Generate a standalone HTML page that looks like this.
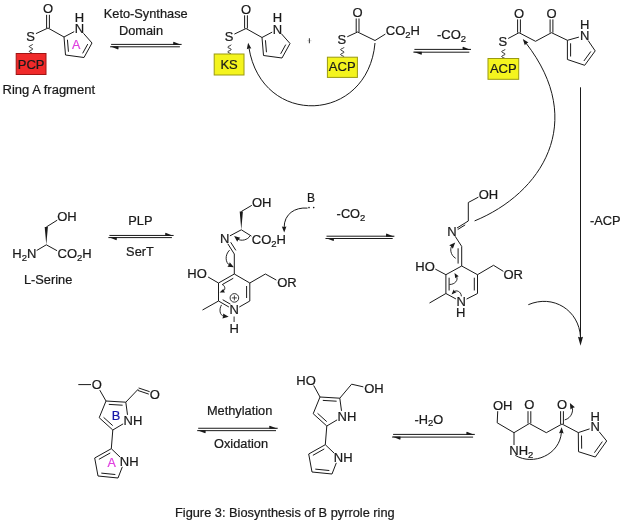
<!DOCTYPE html>
<html><head><meta charset="utf-8"><style>
html,body{margin:0;padding:0;background:#fff;}
svg{display:block;will-change:transform;}
text{font-family:"Liberation Sans",sans-serif;stroke-width:0.22px;}
</style></head><body>
<svg width="625" height="525" viewBox="0 0 625 525">
<rect width="625" height="525" fill="#fff"/>
<text x="42.94" y="13.3" font-size="13" text-anchor="start" fill="#1a1a1a" stroke="#1a1a1a" transform="matrix(1 0 0 1.04 0 -0.53)">O</text>
<text x="26.16" y="40.7" font-size="13" text-anchor="start" fill="#1a1a1a" stroke="#1a1a1a" transform="matrix(1 0 0 1.04 0 -1.63)">S</text>
<text x="74.81" y="33.3" font-size="13" text-anchor="start" fill="#1a1a1a" stroke="#1a1a1a" transform="matrix(1 0 0 1.04 0 -1.33)">N</text>
<text x="74.81" y="21.8" font-size="13" text-anchor="start" fill="#1a1a1a" stroke="#1a1a1a" transform="matrix(1 0 0 1.04 0 -0.87)">H</text>
<line x1="49.4" y1="28" x2="49.4" y2="14.8" stroke="#1a1a1a" stroke-width="1.0"/>
<line x1="46.6" y1="28" x2="46.6" y2="14.8" stroke="#1a1a1a" stroke-width="1.0"/>
<line x1="48" y1="28" x2="35.93" y2="33.65" stroke="#1a1a1a" stroke-width="1.0"/>
<line x1="48" y1="28" x2="64" y2="37" stroke="#1a1a1a" stroke-width="1.0"/>
<line x1="64" y1="37" x2="74.2" y2="31.61" stroke="#1a1a1a" stroke-width="1.0"/>
<line x1="83.46" y1="33.3" x2="92" y2="43" stroke="#1a1a1a" stroke-width="1.0"/>
<line x1="64" y1="37" x2="65.5" y2="55" stroke="#1a1a1a" stroke-width="1.0"/>
<line x1="67.44" y1="39.72" x2="68.44" y2="51.74" stroke="#1a1a1a" stroke-width="1.0"/>
<line x1="65.5" y1="55" x2="84" y2="57.5" stroke="#1a1a1a" stroke-width="1.0"/>
<line x1="84" y1="57.5" x2="92" y2="43" stroke="#1a1a1a" stroke-width="1.0"/>
<line x1="82.65" y1="53.33" x2="87.75" y2="44.08" stroke="#1a1a1a" stroke-width="1.0"/>
<path d="M32.7 44.2 L32.62 44.43 L32.39 44.67 L32.04 44.9 L31.59 45.13 L31.08 45.36 L30.57 45.59 L30.1 45.83 L29.71 46.06 L29.44 46.29 L29.31 46.53 L29.34 46.76 L29.52 46.99 L29.83 47.22 L30.26 47.45 L30.75 47.69 L31.27 47.92 L31.76 48.15 L32.18 48.39 L32.49 48.62 L32.67 48.85 L32.69 49.08 L32.56 49.31 L32.28 49.55 L31.89 49.78 L31.41 50.01 L30.9 50.25 L30.4 50.48 L29.95 50.71 L29.6 50.94 L29.37 51.17 L29.3 51.41 L29.38 51.64 L29.61 51.87 L29.97 52.11 L30.43 52.34 L30.93 52.57 L31.45 52.8 L31.92 53.03 L32.3 53.27 L32.57 53.5" stroke="#1a1a1a" stroke-width="1.0" fill="none"/>
<rect x="16.2" y="53.5" width="29.8" height="21" fill="#f02a2a" stroke="#a01414" stroke-width="1"/>
<text x="31.1" y="69.1" font-size="13" text-anchor="middle" fill="#1a1a1a" stroke="#1a1a1a" transform="matrix(1 0 0 1.04 0 -2.76)">PCP</text>
<text x="76.3" y="48.72" font-size="12.5" text-anchor="middle" fill="#e040e0" stroke="#e040e0" transform="matrix(1 0 0 1.04 0 -1.95)">A</text>
<text x="2.6" y="94" font-size="13" text-anchor="start" fill="#1a1a1a" stroke="#1a1a1a" transform="matrix(1 0 0 1.04 0 -3.76)">Ring A fragment</text>
<text x="145.7" y="17.7" font-size="12.8" text-anchor="middle" fill="#1a1a1a" stroke="#1a1a1a" transform="matrix(1 0 0 1.04 0 -0.71)">Keto-Synthase</text>
<text x="141" y="35" font-size="12.8" text-anchor="middle" fill="#1a1a1a" stroke="#1a1a1a" transform="matrix(1 0 0 1.04 0 -1.4)">Domain</text>
<line x1="111.1" y1="44.4" x2="181.6" y2="44.4" stroke="#1a1a1a" stroke-width="1.0"/>
<line x1="110.1" y1="46.8" x2="179.9" y2="46.8" stroke="#1a1a1a" stroke-width="1.0"/>
<polygon points="181.6,44.9 173.6,41.8 173.2,42.4 173.2,44.9" fill="#1a1a1a"/>
<polygon points="110.1,46.3 118.1,49.4 118.5,48.8 118.5,46.3" fill="#1a1a1a"/>
<text x="240.94" y="13.8" font-size="13" text-anchor="start" fill="#1a1a1a" stroke="#1a1a1a" transform="matrix(1 0 0 1.04 0 -0.55)">O</text>
<text x="224.66" y="41.2" font-size="13" text-anchor="start" fill="#1a1a1a" stroke="#1a1a1a" transform="matrix(1 0 0 1.04 0 -1.65)">S</text>
<text x="272.81" y="33.8" font-size="13" text-anchor="start" fill="#1a1a1a" stroke="#1a1a1a" transform="matrix(1 0 0 1.04 0 -1.35)">N</text>
<text x="272.81" y="22.3" font-size="13" text-anchor="start" fill="#1a1a1a" stroke="#1a1a1a" transform="matrix(1 0 0 1.04 0 -0.89)">H</text>
<line x1="247.4" y1="28.5" x2="247.4" y2="15.3" stroke="#1a1a1a" stroke-width="1.0"/>
<line x1="244.6" y1="28.5" x2="244.6" y2="15.3" stroke="#1a1a1a" stroke-width="1.0"/>
<line x1="246" y1="28.5" x2="234.4" y2="34.09" stroke="#1a1a1a" stroke-width="1.0"/>
<line x1="246" y1="28.5" x2="262" y2="37.5" stroke="#1a1a1a" stroke-width="1.0"/>
<line x1="262" y1="37.5" x2="272.2" y2="32.11" stroke="#1a1a1a" stroke-width="1.0"/>
<line x1="281.46" y1="33.8" x2="290" y2="43.5" stroke="#1a1a1a" stroke-width="1.0"/>
<line x1="262" y1="37.5" x2="263.5" y2="55.5" stroke="#1a1a1a" stroke-width="1.0"/>
<line x1="265.44" y1="40.22" x2="266.44" y2="52.24" stroke="#1a1a1a" stroke-width="1.0"/>
<line x1="263.5" y1="55.5" x2="282" y2="58" stroke="#1a1a1a" stroke-width="1.0"/>
<line x1="282" y1="58" x2="290" y2="43.5" stroke="#1a1a1a" stroke-width="1.0"/>
<line x1="280.65" y1="53.83" x2="285.75" y2="44.58" stroke="#1a1a1a" stroke-width="1.0"/>
<path d="M231.2 44.7 L231.12 44.93 L230.89 45.17 L230.54 45.4 L230.09 45.63 L229.58 45.86 L229.07 46.09 L228.6 46.33 L228.21 46.56 L227.94 46.79 L227.81 47.03 L227.84 47.26 L228.02 47.49 L228.33 47.72 L228.76 47.95 L229.25 48.19 L229.77 48.42 L230.26 48.65 L230.68 48.89 L230.99 49.12 L231.17 49.35 L231.19 49.58 L231.06 49.81 L230.78 50.05 L230.39 50.28 L229.91 50.51 L229.4 50.75 L228.9 50.98 L228.45 51.21 L228.1 51.44 L227.87 51.67 L227.8 51.91 L227.88 52.14 L228.11 52.37 L228.47 52.61 L228.93 52.84 L229.43 53.07 L229.95 53.3 L230.42 53.53 L230.8 53.77 L231.07 54" stroke="#1a1a1a" stroke-width="1.0" fill="none"/>
<rect x="214.2" y="54" width="29.8" height="21" fill="#f4f41e" stroke="#9a9a10" stroke-width="1"/>
<text x="229.1" y="68.7" font-size="13" text-anchor="middle" fill="#1a1a1a" stroke="#1a1a1a" transform="matrix(1 0 0 1.04 0 -2.75)">KS</text>
<line x1="307.3" y1="40.7" x2="311.5" y2="40.7" stroke="#c8c8c8" stroke-width="0.8"/>
<line x1="309.4" y1="38.2" x2="309.4" y2="43.3" stroke="#444" stroke-width="1.1"/>
<text x="352.54" y="17" font-size="13" text-anchor="start" fill="#1a1a1a" stroke="#1a1a1a" transform="matrix(1 0 0 1.04 0 -0.68)">O</text>
<text x="337.46" y="43.8" font-size="13" text-anchor="start" fill="#1a1a1a" stroke="#1a1a1a" transform="matrix(1 0 0 1.04 0 -1.75)">S</text>
<text x="385.81" y="35.4" font-size="13" text-anchor="start" fill="#1a1a1a" stroke="#1a1a1a" transform="matrix(1 0 0 1.04 0 -1.42)">CO<tspan font-size="9.5" dy="2.7">2</tspan><tspan dy="-2.7">H</tspan></text>
<line x1="359" y1="32" x2="359" y2="18.5" stroke="#1a1a1a" stroke-width="1.0"/>
<line x1="356.2" y1="32" x2="356.2" y2="18.5" stroke="#1a1a1a" stroke-width="1.0"/>
<line x1="357.6" y1="32" x2="347.25" y2="36.78" stroke="#1a1a1a" stroke-width="1.0"/>
<line x1="357.6" y1="32" x2="375" y2="40.5" stroke="#1a1a1a" stroke-width="1.0"/>
<line x1="375" y1="40.5" x2="385.4" y2="34.06" stroke="#1a1a1a" stroke-width="1.0"/>
<path d="M344 47.3 L343.92 47.54 L343.68 47.77 L343.31 48.01 L342.85 48.25 L342.33 48.49 L341.81 48.72 L341.33 48.96 L340.95 49.2 L340.7 49.44 L340.6 49.67 L340.67 49.91 L340.89 50.15 L341.24 50.39 L341.7 50.62 L342.22 50.86 L342.74 51.1 L343.22 51.34 L343.61 51.57 L343.88 51.81 L344 52.05 L343.95 52.29 L343.74 52.52 L343.4 52.76 L342.95 53 L342.44 53.24 L341.91 53.47 L341.43 53.71 L341.02 53.95 L340.74 54.19 L340.61 54.42 L340.64 54.66 L340.83 54.9 L341.16 55.14 L341.6 55.38 L342.11 55.61 L342.63 55.85 L343.13 56.09 L343.54 56.32 L343.84 56.56 L343.99 56.8" stroke="#1a1a1a" stroke-width="1.0" fill="none"/>
<rect x="327.4" y="57.2" width="30" height="20.2" fill="#f4f41e" stroke="#9a9a10" stroke-width="1"/>
<text x="342.2" y="71.2" font-size="13" text-anchor="middle" fill="#1a1a1a" stroke="#1a1a1a" transform="matrix(1 0 0 1.04 0 -2.85)">ACP</text>
<path d="M375 43 C367.9 123.5 261.9 128.3 248.89 47.6" stroke="#1a1a1a" stroke-width="1" fill="none"/>
<polygon points="248.1,42.7 251.36,48.45 249.01,48.33 246.82,49.19" fill="#1a1a1a"/>
<text x="436.95" y="38.8" font-size="13" text-anchor="start" fill="#1a1a1a" stroke="#1a1a1a" transform="matrix(1 0 0 1.04 0 -1.55)">-CO<tspan font-size="9.5" dy="2.7">2</tspan></text>
<line x1="414.4" y1="49.4" x2="471" y2="49.4" stroke="#1a1a1a" stroke-width="1.0"/>
<line x1="413.4" y1="52.2" x2="469.3" y2="52.2" stroke="#1a1a1a" stroke-width="1.0"/>
<polygon points="471,49.9 463,46.8 462.6,47.4 462.6,49.9" fill="#1a1a1a"/>
<polygon points="413.4,51.7 421.4,54.8 421.8,54.2 421.8,51.7" fill="#1a1a1a"/>
<text x="498.56" y="45.8" font-size="13" text-anchor="start" fill="#1a1a1a" stroke="#1a1a1a" transform="matrix(1 0 0 1.04 0 -1.83)">S</text>
<text x="513.94" y="17.9" font-size="13" text-anchor="start" fill="#1a1a1a" stroke="#1a1a1a" transform="matrix(1 0 0 1.04 0 -0.72)">O</text>
<text x="546.44" y="17.9" font-size="13" text-anchor="start" fill="#1a1a1a" stroke="#1a1a1a" transform="matrix(1 0 0 1.04 0 -0.72)">O</text>
<text x="580.01" y="40" font-size="13" text-anchor="start" fill="#1a1a1a" stroke="#1a1a1a" transform="matrix(1 0 0 1.04 0 -1.6)">N</text>
<text x="580.01" y="29.4" font-size="13" text-anchor="start" fill="#1a1a1a" stroke="#1a1a1a" transform="matrix(1 0 0 1.04 0 -1.18)">H</text>
<line x1="519" y1="32.7" x2="508.19" y2="38.47" stroke="#1a1a1a" stroke-width="1.0"/>
<line x1="520.4" y1="32.7" x2="520.4" y2="19.4" stroke="#1a1a1a" stroke-width="1.0"/>
<line x1="517.6" y1="32.7" x2="517.6" y2="19.4" stroke="#1a1a1a" stroke-width="1.0"/>
<line x1="519" y1="32.7" x2="535.5" y2="41.3" stroke="#1a1a1a" stroke-width="1.0"/>
<line x1="535.5" y1="41.3" x2="551.5" y2="32.7" stroke="#1a1a1a" stroke-width="1.0"/>
<line x1="552.9" y1="32.7" x2="552.9" y2="19.4" stroke="#1a1a1a" stroke-width="1.0"/>
<line x1="550.1" y1="32.7" x2="550.1" y2="19.4" stroke="#1a1a1a" stroke-width="1.0"/>
<line x1="551.5" y1="32.7" x2="567.4" y2="40.3" stroke="#1a1a1a" stroke-width="1.0"/>
<line x1="567.4" y1="40.3" x2="578.92" y2="37.1" stroke="#1a1a1a" stroke-width="1.0"/>
<line x1="588.08" y1="40.46" x2="595.2" y2="50.9" stroke="#1a1a1a" stroke-width="1.0"/>
<line x1="567.4" y1="40.3" x2="567.4" y2="59.5" stroke="#1a1a1a" stroke-width="1.0"/>
<line x1="570.6" y1="43.3" x2="570.6" y2="56.5" stroke="#1a1a1a" stroke-width="1.0"/>
<line x1="567.4" y1="59.5" x2="584.7" y2="65.3" stroke="#1a1a1a" stroke-width="1.0"/>
<line x1="584.7" y1="65.3" x2="595.2" y2="50.9" stroke="#1a1a1a" stroke-width="1.0"/>
<line x1="583.88" y1="60.99" x2="590.85" y2="51.44" stroke="#1a1a1a" stroke-width="1.0"/>
<path d="M505.1 49.3 L505.02 49.53 L504.8 49.76 L504.45 49.99 L504.01 50.22 L503.51 50.45 L503 50.68 L502.53 50.91 L502.14 51.14 L501.86 51.37 L501.71 51.6 L501.72 51.83 L501.89 52.06 L502.18 52.29 L502.59 52.52 L503.07 52.75 L503.58 52.98 L504.07 53.21 L504.5 53.44 L504.84 53.67 L505.04 53.9 L505.1 54.13 L505 54.36 L504.76 54.59 L504.4 54.82 L503.95 55.05 L503.44 55.28 L502.94 55.51 L502.47 55.74 L502.09 55.97 L501.83 56.2 L501.71 56.43 L501.74 56.66 L501.92 56.89 L502.23 57.12 L502.65 57.35 L503.13 57.58 L503.64 57.81 L504.13 58.04 L504.55 58.27 L504.87 58.5" stroke="#1a1a1a" stroke-width="1.0" fill="none"/>
<rect x="488" y="58.5" width="30.7" height="20.8" fill="#f4f41e" stroke="#9a9a10" stroke-width="1"/>
<text x="503.3" y="72.8" font-size="13" text-anchor="middle" fill="#1a1a1a" stroke="#1a1a1a" transform="matrix(1 0 0 1.04 0 -2.91)">ACP</text>
<path d="M474.6 220.9 C541.2 193.6 587.8 122.3 525.85 42.91" stroke="#1a1a1a" stroke-width="1" fill="none"/>
<polygon points="522.8,39 528.43,42.47 526.31,43.5 524.8,45.3" fill="#1a1a1a"/>
<line x1="580.5" y1="87.3" x2="580.5" y2="338" stroke="#1a1a1a" stroke-width="1.0"/>
<polygon points="580.5,345.8 578,336.8 580.5,337.52 583,336.8" fill="#1a1a1a"/>
<text x="590" y="225" font-size="12.8" text-anchor="start" fill="#1a1a1a" stroke="#1a1a1a" transform="matrix(1 0 0 1.04 0 -9)">-ACP</text>
<path d="M528.3 304.7 C553 294 579 310 580.5 337" stroke="#1a1a1a" stroke-width="1.0" fill="none"/>
<text x="57.24" y="221.5" font-size="13" text-anchor="start" fill="#1a1a1a" stroke="#1a1a1a" transform="matrix(1 0 0 1.04 0 -8.86)">OH</text>
<text x="12.36" y="258.1" font-size="13" text-anchor="start" fill="#1a1a1a" stroke="#1a1a1a" transform="matrix(1 0 0 1.04 0 -10.32)">H<tspan font-size="9.5" dy="2.7">2</tspan><tspan dy="-2.7">N</tspan></text>
<text x="57.61" y="258.1" font-size="13" text-anchor="start" fill="#1a1a1a" stroke="#1a1a1a" transform="matrix(1 0 0 1.04 0 -10.32)">CO<tspan font-size="9.5" dy="2.7">2</tspan><tspan dy="-2.7">H</tspan></text>
<line x1="46.3" y1="227" x2="57.21" y2="220.18" stroke="#1a1a1a" stroke-width="1.0"/>
<polygon points="46.3,244.8 47.9,227 44.7,227" fill="#1a1a1a"/>
<line x1="46.3" y1="244.8" x2="36.66" y2="250.53" stroke="#1a1a1a" stroke-width="1.0"/>
<line x1="46.3" y1="244.8" x2="57.04" y2="250.71" stroke="#1a1a1a" stroke-width="1.0"/>
<text x="48.1" y="283.6" font-size="12.8" text-anchor="middle" fill="#1a1a1a" stroke="#1a1a1a" transform="matrix(1 0 0 1.04 0 -11.34)">L-Serine</text>
<text x="140.4" y="224.8" font-size="12.8" text-anchor="middle" fill="#1a1a1a" stroke="#1a1a1a" transform="matrix(1 0 0 1.04 0 -8.99)">PLP</text>
<text x="140" y="256.3" font-size="12.8" text-anchor="middle" fill="#1a1a1a" stroke="#1a1a1a" transform="matrix(1 0 0 1.04 0 -10.25)">SerT</text>
<line x1="109.4" y1="235.45" x2="173.6" y2="235.45" stroke="#1a1a1a" stroke-width="1.0"/>
<line x1="108.4" y1="237.6" x2="171.9" y2="237.6" stroke="#1a1a1a" stroke-width="1.0"/>
<polygon points="173.6,235.95 165.6,232.85 165.2,233.45 165.2,235.95" fill="#1a1a1a"/>
<polygon points="108.4,237.1 116.4,240.2 116.8,239.6 116.8,237.1" fill="#1a1a1a"/>
<text x="251.94" y="206.8" font-size="13" text-anchor="start" fill="#1a1a1a" stroke="#1a1a1a" transform="matrix(1 0 0 1.04 0 -8.27)">OH</text>
<text x="219.91" y="243.2" font-size="13" text-anchor="start" fill="#1a1a1a" stroke="#1a1a1a" transform="matrix(1 0 0 1.04 0 -9.73)">N</text>
<text x="251.81" y="243.8" font-size="13" text-anchor="start" fill="#1a1a1a" stroke="#1a1a1a" transform="matrix(1 0 0 1.04 0 -9.75)">CO<tspan font-size="9.5" dy="2.7">2</tspan><tspan dy="-2.7">H</tspan></text>
<text x="229.41" y="314.5" font-size="13" text-anchor="start" fill="#1a1a1a" stroke="#1a1a1a" transform="matrix(1 0 0 1.04 0 -12.58)">N</text>
<line x1="241.3" y1="211.5" x2="251.82" y2="205.33" stroke="#1a1a1a" stroke-width="1.0"/>
<polygon points="241.3,229.8 242.9,211.5 239.7,211.5" fill="#1a1a1a"/>
<line x1="241.3" y1="229.8" x2="229.89" y2="235.88" stroke="#1a1a1a" stroke-width="1.0"/>
<line x1="241.3" y1="229.8" x2="251.41" y2="236.12" stroke="#1a1a1a" stroke-width="1.0"/>
<line x1="227.81" y1="243.77" x2="234.3" y2="254" stroke="#1a1a1a" stroke-width="1.0"/>
<line x1="230.71" y1="242.27" x2="235.86" y2="250.39" stroke="#1a1a1a" stroke-width="1.0"/>
<line x1="234.3" y1="254" x2="234.3" y2="274" stroke="#1a1a1a" stroke-width="1.0"/>
<line x1="234.3" y1="274" x2="218.5" y2="283" stroke="#1a1a1a" stroke-width="1.0"/>
<line x1="233.28" y1="278.27" x2="222.69" y2="284.3" stroke="#1a1a1a" stroke-width="1.0"/>
<line x1="218.5" y1="283" x2="218.5" y2="301" stroke="#1a1a1a" stroke-width="1.0"/>
<line x1="218.5" y1="301" x2="228.9" y2="307" stroke="#1a1a1a" stroke-width="1.0"/>
<line x1="222.7" y1="299.73" x2="230.5" y2="304.23" stroke="#1a1a1a" stroke-width="1.0"/>
<line x1="239.31" y1="307.02" x2="249.8" y2="301" stroke="#1a1a1a" stroke-width="1.0"/>
<line x1="249.8" y1="301" x2="249.8" y2="283" stroke="#1a1a1a" stroke-width="1.0"/>
<line x1="246.6" y1="298" x2="246.6" y2="286" stroke="#1a1a1a" stroke-width="1.0"/>
<line x1="249.8" y1="283" x2="234.3" y2="274" stroke="#1a1a1a" stroke-width="1.0"/>
<text x="187.36" y="278.3" font-size="13" text-anchor="start" fill="#1a1a1a" stroke="#1a1a1a" transform="matrix(1 0 0 1.04 0 -11.13)">HO</text>
<line x1="218.5" y1="283" x2="208.1" y2="277" stroke="#1a1a1a" stroke-width="1.0"/>
<line x1="249.8" y1="283" x2="265.4" y2="274" stroke="#1a1a1a" stroke-width="1.0"/>
<line x1="265.4" y1="274" x2="276.36" y2="280.09" stroke="#1a1a1a" stroke-width="1.0"/>
<text x="277.14" y="287.5" font-size="13" text-anchor="start" fill="#1a1a1a" stroke="#1a1a1a" transform="matrix(1 0 0 1.04 0 -11.5)">OR</text>
<line x1="218.5" y1="301" x2="202.5" y2="310" stroke="#1a1a1a" stroke-width="1.0"/>
<circle cx="234.4" cy="297.9" r="4.3" fill="none" stroke="#1a1a1a" stroke-width="0.9"/>
<line x1="231.9" y1="297.9" x2="236.9" y2="297.9" stroke="#1a1a1a" stroke-width="0.8"/>
<line x1="234.4" y1="295.4" x2="234.4" y2="300.4" stroke="#1a1a1a" stroke-width="0.8"/>
<line x1="234.1" y1="316.5" x2="234.1" y2="322" stroke="#1a1a1a" stroke-width="0.9"/>
<text x="234.1" y="333.1" font-size="13" text-anchor="middle" fill="#1a1a1a" stroke="#1a1a1a" transform="matrix(1 0 0 1.04 0 -13.32)">H</text>
<text x="310.9" y="201.75" font-size="12" text-anchor="middle" fill="#1a1a1a" stroke="#1a1a1a" transform="matrix(1 0 0 1.04 0 -8.07)">B</text>
<circle cx="309" cy="207.6" r="0.8" fill="#1a1a1a"/><circle cx="313.7" cy="207.6" r="0.8" fill="#1a1a1a"/>
<path d="M307.5 208.1 C295 207 284 214 284.15 227.6" stroke="#1a1a1a" stroke-width="1" fill="none"/>
<polygon points="284.2,232.4 281.83,226.43 284.14,226.88 286.43,226.38" fill="#1a1a1a"/>
<path d="M250.1 235.7 C248 240 241 241.5 237.85 238.99" stroke="#1a1a1a" stroke-width="0.95" fill="none"/>
<polygon points="234.1,236 240.35,237.78 238.42,239.44 237.23,241.69" fill="#1a1a1a"/>
<path d="M229.6 250.1 C224.5 255 225.5 263 229.63 265.11" stroke="#1a1a1a" stroke-width="0.95" fill="none"/>
<polygon points="233.9,267.3 227.42,266.79 228.99,264.78 229.7,262.34" fill="#1a1a1a"/>
<path d="M222 284.4 C225.5 285.5 225.5 290 223.28 290.94" stroke="#1a1a1a" stroke-width="0.95" fill="none"/>
<polygon points="219.6,292.5 223.42,288.71 223.84,290.71 224.98,292.39" fill="#1a1a1a"/>
<path d="M221.5 304.9 C219 309 219.5 315.5 223.95 316.13" stroke="#1a1a1a" stroke-width="0.95" fill="none"/>
<polygon points="228.7,316.8 222.41,318.44 223.23,316.03 223.11,313.49" fill="#1a1a1a"/>
<text x="351" y="218.5" font-size="12.8" text-anchor="middle" fill="#1a1a1a" stroke="#1a1a1a" transform="matrix(1 0 0 1.04 0 -8.74)">-CO<tspan font-size="9.5" dy="2.7">2</tspan></text>
<line x1="326.5" y1="236.2" x2="394.4" y2="236.2" stroke="#1a1a1a" stroke-width="1.0"/>
<line x1="325.5" y1="238.5" x2="392.7" y2="238.5" stroke="#1a1a1a" stroke-width="1.0"/>
<polygon points="394.4,236.7 386.4,233.6 386,234.2 386,236.7" fill="#1a1a1a"/>
<polygon points="325.5,238 333.5,241.1 333.9,240.5 333.9,238" fill="#1a1a1a"/>
<text x="478.64" y="198.8" font-size="13" text-anchor="start" fill="#1a1a1a" stroke="#1a1a1a" transform="matrix(1 0 0 1.04 0 -7.95)">OH</text>
<text x="447.21" y="235.7" font-size="13" text-anchor="start" fill="#1a1a1a" stroke="#1a1a1a" transform="matrix(1 0 0 1.04 0 -9.43)">N</text>
<text x="456.51" y="306.3" font-size="13" text-anchor="start" fill="#1a1a1a" stroke="#1a1a1a" transform="matrix(1 0 0 1.04 0 -12.25)">N</text>
<line x1="468.3" y1="202.5" x2="478.4" y2="197.12" stroke="#1a1a1a" stroke-width="1.0"/>
<line x1="468.3" y1="221" x2="468.3" y2="202.5" stroke="#1a1a1a" stroke-width="1.0"/>
<line x1="468.3" y1="221" x2="456.99" y2="228.03" stroke="#1a1a1a" stroke-width="1.0"/>
<line x1="465.2" y1="224.86" x2="457.72" y2="229.51" stroke="#1a1a1a" stroke-width="1.0"/>
<line x1="455.15" y1="236.24" x2="461.7" y2="246.4" stroke="#1a1a1a" stroke-width="1.0"/>
<line x1="461.7" y1="246.4" x2="461.7" y2="266" stroke="#1a1a1a" stroke-width="1.0"/>
<line x1="458.1" y1="248.3" x2="458.1" y2="263.6" stroke="#1a1a1a" stroke-width="1.0"/>
<line x1="461.7" y1="266" x2="445.9" y2="274.7" stroke="#1a1a1a" stroke-width="1.0"/>
<line x1="445.9" y1="274.7" x2="445.9" y2="293.5" stroke="#1a1a1a" stroke-width="1.0"/>
<line x1="449.1" y1="277.7" x2="449.1" y2="290.5" stroke="#1a1a1a" stroke-width="1.0"/>
<line x1="445.9" y1="293.5" x2="455.93" y2="298.94" stroke="#1a1a1a" stroke-width="1.0"/>
<line x1="466.55" y1="299.08" x2="477.5" y2="293.5" stroke="#1a1a1a" stroke-width="1.0"/>
<line x1="477.5" y1="293.5" x2="477.5" y2="274.7" stroke="#1a1a1a" stroke-width="1.0"/>
<line x1="474.3" y1="290.5" x2="474.3" y2="277.7" stroke="#1a1a1a" stroke-width="1.0"/>
<line x1="477.5" y1="274.7" x2="461.7" y2="266" stroke="#1a1a1a" stroke-width="1.0"/>
<text x="415.26" y="270.8" font-size="13" text-anchor="start" fill="#1a1a1a" stroke="#1a1a1a" transform="matrix(1 0 0 1.04 0 -10.83)">HO</text>
<line x1="445.9" y1="274.7" x2="435.31" y2="269.1" stroke="#1a1a1a" stroke-width="1.0"/>
<line x1="477.5" y1="274.7" x2="493.5" y2="265.3" stroke="#1a1a1a" stroke-width="1.0"/>
<line x1="493.5" y1="265.3" x2="503.39" y2="271.36" stroke="#1a1a1a" stroke-width="1.0"/>
<text x="503.44" y="279.3" font-size="13" text-anchor="start" fill="#1a1a1a" stroke="#1a1a1a" transform="matrix(1 0 0 1.04 0 -11.17)">OR</text>
<line x1="445.9" y1="293.5" x2="429.5" y2="303" stroke="#1a1a1a" stroke-width="1.0"/>
<text x="460.7" y="317.5" font-size="13" text-anchor="middle" fill="#1a1a1a" stroke="#1a1a1a" transform="matrix(1 0 0 1.04 0 -12.7)">H</text>
<path d="M455.7 258.3 C450 255 450 248 451.87 246.06" stroke="#1a1a1a" stroke-width="0.95" fill="none"/>
<polygon points="455.2,242.6 452.84,248.66 451.37,246.58 449.24,245.19" fill="#1a1a1a"/>
<path d="M449.5 284.5 C455 284.5 458.5 280 456.48 276.47" stroke="#1a1a1a" stroke-width="0.95" fill="none"/>
<polygon points="454.5,273 458.72,276.35 456.78,276.99 455.24,278.33" fill="#1a1a1a"/>
<path d="M461.4 296.3 C461 291 456 290 454.36 291.6" stroke="#1a1a1a" stroke-width="0.95" fill="none"/>
<polygon points="451.5,294.4 453.68,289.47 454.79,291.18 456.47,292.33" fill="#1a1a1a"/>
<text x="123.61" y="425.3" font-size="13" text-anchor="start" fill="#1a1a1a" stroke="#1a1a1a" transform="matrix(1 0 0 1.04 0 -17.01)">NH</text>
<line x1="106" y1="401" x2="125.8" y2="402.2" stroke="#1a1a1a" stroke-width="1.0"/>
<line x1="108.8" y1="404.38" x2="122.61" y2="405.21" stroke="#1a1a1a" stroke-width="1.0"/>
<line x1="125.8" y1="402.2" x2="127.5" y2="414.85" stroke="#1a1a1a" stroke-width="1.0"/>
<line x1="123.14" y1="423.86" x2="112.8" y2="430" stroke="#1a1a1a" stroke-width="1.0"/>
<line x1="112.8" y1="430" x2="99.2" y2="417.7" stroke="#1a1a1a" stroke-width="1.0"/>
<line x1="112.72" y1="425.61" x2="103.57" y2="417.34" stroke="#1a1a1a" stroke-width="1.0"/>
<line x1="99.2" y1="417.7" x2="106" y2="401" stroke="#1a1a1a" stroke-width="1.0"/>
<line x1="112.8" y1="430" x2="111.3" y2="448.7" stroke="#1a1a1a" stroke-width="1.0"/>
<text x="119.81" y="465.8" font-size="13" text-anchor="start" fill="#1a1a1a" stroke="#1a1a1a" transform="matrix(1 0 0 1.04 0 -18.63)">NH</text>
<line x1="111.3" y1="448.7" x2="94.7" y2="458" stroke="#1a1a1a" stroke-width="1.0"/>
<line x1="110.25" y1="452.96" x2="98.88" y2="459.33" stroke="#1a1a1a" stroke-width="1.0"/>
<line x1="94.7" y1="458" x2="98" y2="476" stroke="#1a1a1a" stroke-width="1.0"/>
<line x1="98" y1="476" x2="118" y2="478" stroke="#1a1a1a" stroke-width="1.0"/>
<line x1="101.3" y1="473.11" x2="115.33" y2="474.52" stroke="#1a1a1a" stroke-width="1.0"/>
<line x1="118" y1="478" x2="122.32" y2="466.89" stroke="#1a1a1a" stroke-width="1.0"/>
<line x1="120.16" y1="457.16" x2="111.3" y2="448.7" stroke="#1a1a1a" stroke-width="1.0"/>
<text x="116" y="420.03" font-size="12.8" text-anchor="middle" fill="#1818a8" stroke="#1818a8" transform="matrix(1 0 0 1.04 0 -16.8)">B</text>
<text x="111.6" y="467.32" font-size="12.5" text-anchor="middle" fill="#e040e0" stroke="#e040e0" transform="matrix(1 0 0 1.04 0 -18.69)">A</text>
<text x="91.74" y="389.4" font-size="13" text-anchor="start" fill="#1a1a1a" stroke="#1a1a1a" transform="matrix(1 0 0 1.04 0 -15.58)">O</text>
<line x1="78.3" y1="384.6" x2="91" y2="384.6" stroke="#1a1a1a" stroke-width="1.0"/>
<line x1="106" y1="401" x2="99.78" y2="390.11" stroke="#1a1a1a" stroke-width="1.0"/>
<line x1="125.8" y1="402.2" x2="138.2" y2="389.2" stroke="#1a1a1a" stroke-width="1.0"/>
<line x1="137.79" y1="390.43" x2="148.8" y2="394.12" stroke="#1a1a1a" stroke-width="1.0"/>
<line x1="138.61" y1="387.97" x2="149.62" y2="391.66" stroke="#1a1a1a" stroke-width="1.0"/>
<text x="149.84" y="399.3" font-size="13" text-anchor="start" fill="#1a1a1a" stroke="#1a1a1a" transform="matrix(1 0 0 1.04 0 -15.97)">O</text>
<text x="239.6" y="414.8" font-size="12.8" text-anchor="middle" fill="#1a1a1a" stroke="#1a1a1a" transform="matrix(1 0 0 1.04 0 -16.59)">Methylation</text>
<text x="241" y="447.6" font-size="12.8" text-anchor="middle" fill="#1a1a1a" stroke="#1a1a1a" transform="matrix(1 0 0 1.04 0 -17.9)">Oxidation</text>
<line x1="198.2" y1="428.25" x2="277.7" y2="428.25" stroke="#1a1a1a" stroke-width="1.0"/>
<line x1="197.2" y1="430.65" x2="276" y2="430.65" stroke="#1a1a1a" stroke-width="1.0"/>
<polygon points="277.7,428.75 269.7,425.65 269.3,426.25 269.3,428.75" fill="#1a1a1a"/>
<polygon points="197.2,430.15 205.2,433.25 205.6,432.65 205.6,430.15" fill="#1a1a1a"/>
<text x="337.61" y="421.3" font-size="13" text-anchor="start" fill="#1a1a1a" stroke="#1a1a1a" transform="matrix(1 0 0 1.04 0 -16.85)">NH</text>
<line x1="320" y1="397" x2="339.8" y2="398.2" stroke="#1a1a1a" stroke-width="1.0"/>
<line x1="322.8" y1="400.38" x2="336.61" y2="401.21" stroke="#1a1a1a" stroke-width="1.0"/>
<line x1="339.8" y1="398.2" x2="341.5" y2="410.85" stroke="#1a1a1a" stroke-width="1.0"/>
<line x1="337.14" y1="419.86" x2="326.8" y2="426" stroke="#1a1a1a" stroke-width="1.0"/>
<line x1="326.8" y1="426" x2="313.2" y2="413.7" stroke="#1a1a1a" stroke-width="1.0"/>
<line x1="326.72" y1="421.61" x2="317.57" y2="413.34" stroke="#1a1a1a" stroke-width="1.0"/>
<line x1="313.2" y1="413.7" x2="320" y2="397" stroke="#1a1a1a" stroke-width="1.0"/>
<line x1="326.8" y1="426" x2="325.3" y2="444.7" stroke="#1a1a1a" stroke-width="1.0"/>
<text x="333.81" y="461.8" font-size="13" text-anchor="start" fill="#1a1a1a" stroke="#1a1a1a" transform="matrix(1 0 0 1.04 0 -18.47)">NH</text>
<line x1="325.3" y1="444.7" x2="308.7" y2="454" stroke="#1a1a1a" stroke-width="1.0"/>
<line x1="324.25" y1="448.96" x2="312.88" y2="455.33" stroke="#1a1a1a" stroke-width="1.0"/>
<line x1="308.7" y1="454" x2="312" y2="472" stroke="#1a1a1a" stroke-width="1.0"/>
<line x1="312" y1="472" x2="332" y2="474" stroke="#1a1a1a" stroke-width="1.0"/>
<line x1="315.3" y1="469.11" x2="329.33" y2="470.52" stroke="#1a1a1a" stroke-width="1.0"/>
<line x1="332" y1="474" x2="336.32" y2="462.89" stroke="#1a1a1a" stroke-width="1.0"/>
<line x1="334.16" y1="453.16" x2="325.3" y2="444.7" stroke="#1a1a1a" stroke-width="1.0"/>
<text x="296.36" y="384.7" font-size="13" text-anchor="start" fill="#1a1a1a" stroke="#1a1a1a" transform="matrix(1 0 0 1.04 0 -15.39)">HO</text>
<line x1="320" y1="397" x2="313.68" y2="385.46" stroke="#1a1a1a" stroke-width="1.0"/>
<line x1="339.8" y1="398.2" x2="351.6" y2="384.2" stroke="#1a1a1a" stroke-width="1.0"/>
<line x1="351.6" y1="384.2" x2="363.35" y2="386.87" stroke="#1a1a1a" stroke-width="1.0"/>
<text x="364.14" y="392.7" font-size="13" text-anchor="start" fill="#1a1a1a" stroke="#1a1a1a" transform="matrix(1 0 0 1.04 0 -15.71)">OH</text>
<text x="428.8" y="423.6" font-size="12.8" text-anchor="middle" fill="#1a1a1a" stroke="#1a1a1a" transform="matrix(1 0 0 1.04 0 -16.94)">-H<tspan font-size="9.5" dy="2.7">2</tspan><tspan dy="-2.7">O</tspan></text>
<line x1="393.1" y1="434.4" x2="474.8" y2="434.4" stroke="#1a1a1a" stroke-width="1.0"/>
<line x1="392.1" y1="437.1" x2="473.1" y2="437.1" stroke="#1a1a1a" stroke-width="1.0"/>
<polygon points="474.8,434.9 466.8,431.8 466.4,432.4 466.4,434.9" fill="#1a1a1a"/>
<polygon points="392.1,436.6 400.1,439.7 400.5,439.1 400.5,436.6" fill="#1a1a1a"/>
<text x="492.94" y="409.7" font-size="13" text-anchor="start" fill="#1a1a1a" stroke="#1a1a1a" transform="matrix(1 0 0 1.04 0 -16.39)">OH</text>
<text x="509.31" y="455.5" font-size="13" text-anchor="start" fill="#1a1a1a" stroke="#1a1a1a" transform="matrix(1 0 0 1.04 0 -18.22)">NH<tspan font-size="9.5" dy="2.7">2</tspan></text>
<text x="524.34" y="409.1" font-size="13" text-anchor="start" fill="#1a1a1a" stroke="#1a1a1a" transform="matrix(1 0 0 1.04 0 -16.36)">O</text>
<text x="556.94" y="409.1" font-size="13" text-anchor="start" fill="#1a1a1a" stroke="#1a1a1a" transform="matrix(1 0 0 1.04 0 -16.36)">O</text>
<text x="590.61" y="431.5" font-size="13" text-anchor="start" fill="#1a1a1a" stroke="#1a1a1a" transform="matrix(1 0 0 1.04 0 -17.26)">N</text>
<text x="590.61" y="421.1" font-size="13" text-anchor="start" fill="#1a1a1a" stroke="#1a1a1a" transform="matrix(1 0 0 1.04 0 -16.84)">H</text>
<line x1="497.2" y1="422.8" x2="497.73" y2="411.19" stroke="#1a1a1a" stroke-width="1.0"/>
<line x1="497.2" y1="422.8" x2="514" y2="432.7" stroke="#1a1a1a" stroke-width="1.0"/>
<line x1="514" y1="432.7" x2="514" y2="445" stroke="#1a1a1a" stroke-width="1.0"/>
<line x1="514" y1="432.7" x2="529.4" y2="423.5" stroke="#1a1a1a" stroke-width="1.0"/>
<line x1="530.8" y1="423.5" x2="530.8" y2="411.2" stroke="#1a1a1a" stroke-width="1.0"/>
<line x1="528" y1="423.5" x2="528" y2="411.2" stroke="#1a1a1a" stroke-width="1.0"/>
<line x1="529.4" y1="423.5" x2="546.3" y2="432.7" stroke="#1a1a1a" stroke-width="1.0"/>
<line x1="546.3" y1="432.7" x2="562" y2="424" stroke="#1a1a1a" stroke-width="1.0"/>
<line x1="563.4" y1="424" x2="563.4" y2="411.2" stroke="#1a1a1a" stroke-width="1.0"/>
<line x1="560.6" y1="424" x2="560.6" y2="411.2" stroke="#1a1a1a" stroke-width="1.0"/>
<line x1="562" y1="424" x2="578.3" y2="432.6" stroke="#1a1a1a" stroke-width="1.0"/>
<line x1="578.3" y1="432.6" x2="589.6" y2="428.88" stroke="#1a1a1a" stroke-width="1.0"/>
<line x1="599.09" y1="431.65" x2="606.7" y2="441" stroke="#1a1a1a" stroke-width="1.0"/>
<line x1="578.3" y1="432.6" x2="578.5" y2="451.7" stroke="#1a1a1a" stroke-width="1.0"/>
<line x1="581.53" y1="435.57" x2="581.67" y2="448.67" stroke="#1a1a1a" stroke-width="1.0"/>
<line x1="578.5" y1="451.7" x2="595.3" y2="457" stroke="#1a1a1a" stroke-width="1.0"/>
<line x1="595.3" y1="457" x2="606.7" y2="441" stroke="#1a1a1a" stroke-width="1.0"/>
<line x1="594.43" y1="452.7" x2="602.35" y2="441.59" stroke="#1a1a1a" stroke-width="1.0"/>
<path d="M515.4 455.4 C533 466 560 455 561.41 432.09" stroke="#1a1a1a" stroke-width="1" fill="none"/>
<polygon points="561.7,427.3 563.63,433.43 561.36,432.81 559.04,433.15" fill="#1a1a1a"/>
<path d="M564.7 419.9 C572 418 573.5 410 572.12 407.36" stroke="#1a1a1a" stroke-width="0.95" fill="none"/>
<polygon points="569.9,403.1 574.89,407.26 572.45,407.99 570.46,409.58" fill="#1a1a1a"/>
<text x="175" y="517" font-size="12.8" text-anchor="start" fill="#1a1a1a" stroke="#1a1a1a" transform="matrix(1 0 0 1.04 0 -20.68)">Figure 3: Biosynthesis of B pyrrole ring</text>
</svg></body></html>
